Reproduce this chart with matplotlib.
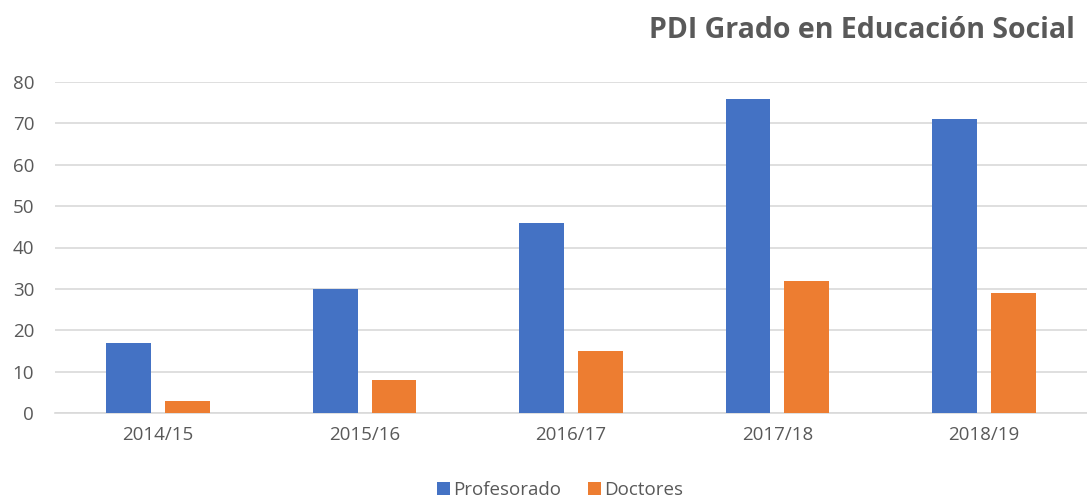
import matplotlib
matplotlib.use("Agg")
import matplotlib.pyplot as plt
import numpy as np

plt.rcParams['font.family'] = ['Open Sans', 'DejaVu Sans']

cursos = ["2014/15", "2015/16", "2016/17", "2017/18", "2018/19"]
profesorado = [17, 30, 46, 76, 71]
doctores = [3, 8, 15, 32, 29]
yticks = [0, 10, 20, 30, 40, 50, 60, 70, 80]

gris = "#595959"
x = np.arange(len(cursos))
w = 0.217

fig = plt.figure(figsize=(10.87, 5.01), dpi=100)
ax = fig.add_axes([55 / 1087, 88 / 501, 1032 / 1087, (413 - 82) / 501])

ax.bar(x - 0.1425, profesorado, w, color="#4472C4", label="Profesorado", zorder=3)
ax.bar(x + 0.1425, doctores, w, color="#ED7D31", label="Doctores", zorder=3)

ax.set_xlim(-0.5, 4.5)
ax.set_ylim(0, 80)
ax.set_yticks(yticks)
ax.set_xticks(x)
ax.set_xticklabels(cursos)
ax.grid(axis="y", color="#D9D9D9", linewidth=1.2, zorder=0)
for s in ["top", "right", "left"]:
    ax.spines[s].set_visible(False)
ax.spines["bottom"].set_color("#D9D9D9")
ax.spines["bottom"].set_linewidth(1.2)
ax.tick_params(axis="both", length=0, labelsize=13.5, labelcolor=gris)
ax.tick_params(axis="y", pad=15)
ax.tick_params(axis="x", pad=9)

fig.text(1075 / 1087, 1 - 30 / 501, "PDI Grado en Educación Social", ha="right", va="center",
         fontsize=20.5, fontweight="bold", color=gris)

fig.legend(loc="center", bbox_to_anchor=(560 / 1087, 1 - 490 / 501), ncol=2, frameon=False,
           fontsize=13.5, labelcolor=gris, handlelength=0.7, handleheight=0.7,
           handletextpad=0.2, columnspacing=1.4)

fig.savefig("out.png", dpi=100)
